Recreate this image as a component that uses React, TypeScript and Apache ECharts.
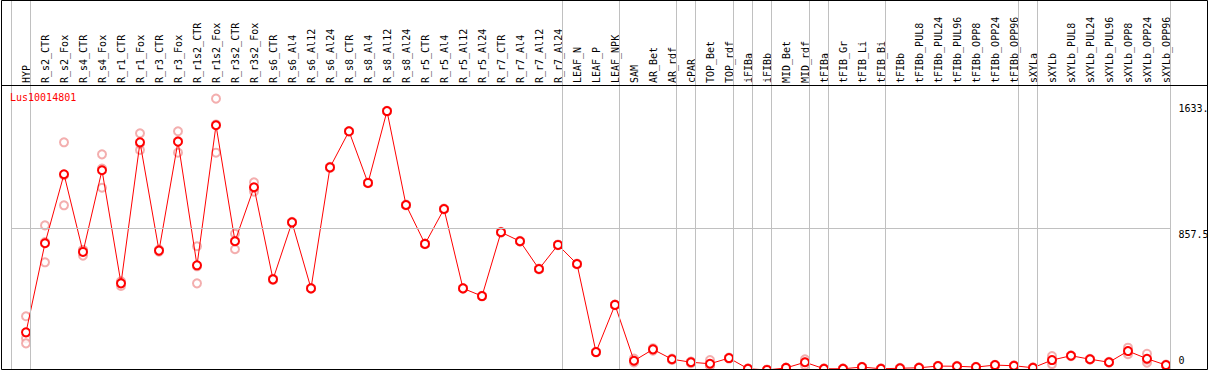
import React, { useEffect, useRef } from "react";
import * as echarts from "echarts";

const categories = [
  "HYP", "R_s2_CTR", "R_s2_Fox", "R_s4_CTR", "R_s4_Fox", "R_r1_CTR", "R_r1_Fox", "R_r3_CTR", "R_r3_Fox",
  "R_r1s2_CTR", "R_r1s2_Fox", "R_r3s2_CTR", "R_r3s2_Fox", "R_s6_CTR", "R_s6_Al4", "R_s6_Al12", "R_s6_Al24",
  "R_s8_CTR", "R_s8_Al4", "R_s8_Al12", "R_s8_Al24", "R_r5_CTR", "R_r5_Al4", "R_r5_Al12", "R_r5_Al24",
  "R_r7_CTR", "R_r7_Al4", "R_r7_Al12", "R_r7_Al24", "LEAF_N", "LEAF_P", "LEAF_NPK", "SAM", "AR_Bet", "AR_rdf",
  "cPAR", "TOP_Bet", "TOP_rdf", "iFIBa", "iFIBb", "MID_Bet", "MID_rdf", "tFIBa", "tFIB_Gr", "tFIB_Li", "tFIB_Bi",
  "tFIBb", "tFIBb_PUL8", "tFIBb_PUL24", "tFIBb_PUL96", "tFIBb_OPP8", "tFIBb_OPP24", "tFIBb_OPP96", "sXYLa",
  "sXYLb", "sXYLb_PUL8", "sXYLb_PUL24", "sXYLb_PUL96", "sXYLb_OPP8", "sXYLb_OPP24", "sXYLb_OPP96",
];

const means = [
  235, 768, 1181, 716, 1205, 528, 1372, 724, 1376, 636, 1474, 780, 1103, 552, 893, 498, 1222,
  1438, 1129, 1559, 997, 764, 973, 498, 452, 834, 780, 614, 758, 644, 117, 399, 65, 133, 74,
  56, 47, 81, 17, 10, 22, 56, 17, 17, 27, 17, 20, 23, 33, 32, 27, 39, 35, 23,
  69, 95, 74, 56, 123, 77, 39,
];

const repA = [
  331, 875, 1372, 726, 1300, 540, 1426, 730, 1438, 750, 1633.3, 825, 1133, 555, 896, 500, 1225,
  1440, 1131, 1561, 999, 766, 975, 500, 454, 836, 782, 616, 760, 646, 119, 401, 55, 140, 78,
  60, 69, 84, 19, 12, 24, 74, 19, 19, 29, 19, 22, 25, 35, 34, 29, 41, 37, 25,
  93, 98, 77, 59, 143, 107, 42,
];
const repB = [
  199, 654, 995, 694, 1100, 512, 1326, 718, 1310, 528, 1310, 732, 1077, 548, 890, 496, 1219,
  1436, 1127, 1557, 995, 762, 971, 496, 450, 832, 778, 612, 756, 642, 115, 397, 78, 125, 70,
  50, 35, 78, 15, 8, 20, 38, 15, 15, 25, 15, 18, 21, 31, 30, 25, 37, 33, 21,
  45, 92, 71, 53, 104, 53, 36,
];
const repC = [
  169, 775, 1176, 728, 1215, 532, 1364, 724, 1380, 630, 1479, 783, 1099, 553, 893, 498, 1222,
  1438, 1129, 1559, 997, 764, 973, 498, 452, 834, 780, 614, 758, 644, 117, 399, 62, 134, 74,
  58, 37, 81, 17, 10, 22, 56, 17, 17, 27, 17, 20, 23, 33, 32, 27, 39, 35, 23,
  69, 95, 74, 56, 122, 71, 39,
];

const yLabelValues = [0, 857.5, 1633.3];
const yMax = 1715;
const groupEnds = [
  "HYP", "R_r7_Al24", "LEAF_NPK", "AR_rdf", "cPAR", "TOP_rdf", "iFIBa", "iFIBb", "MID_rdf",
  "tFIBa", "tFIB_Bi", "tFIBb_OPP96", "sXYLa", "sXYLb_OPP96",
];
const title = "Lus10014801";

const FONT = "DejaVu Sans Mono";

export default function App() {
  const ref = useRef<HTMLDivElement>(null);
  useEffect(() => {
    document.body.style.margin = "0";
    const chart = echarts.init(ref.current!, null, { renderer: "svg" });
    const repData: [number, number][] = [];
    [repA, repB, repC].forEach((arr) =>
      arr.forEach((v, i) => {
        if (v != null) repData.push([i, v]);
      })
    );
    const sepValues = [0, ...groupEnds.map((n) => categories.indexOf(n) + 1)];
    const plotTop = 85;
    const plotH = 286.6;
    chart.setOption({
      animation: false,
      backgroundColor: "#ffffff",
      title: {
        text: title,
        left: 10,
        top: 92,
        padding: 0,
        textStyle: { color: "#ff0000", fontSize: 10, fontFamily: FONT, fontWeight: "normal" },
      },
      grid: [
        { left: 16.5, top: plotTop, width: 1159, height: plotH, outerBoundsMode: "none", containLabel: false },
        { left: 11.5, top: 0, width: 1159, height: 369, outerBoundsMode: "none", containLabel: false },
        { left: 11, top: 85.4, width: 1159, height: 286.2, outerBoundsMode: "none", containLabel: false },
      ],
      xAxis: [
        {
          type: "category",
          gridIndex: 0,
          position: "top",
          data: categories,
          boundaryGap: true,
          axisLine: { show: false },
          axisTick: { show: false },
          splitLine: { show: false },
          axisLabel: {
            interval: 0,
            rotate: 90,
            margin: 2,
            fontSize: 10,
            fontFamily: FONT,
            color: "#000000",
          },
        },
        { type: "value", gridIndex: 1, min: 0, max: 61, show: false },
        { type: "value", gridIndex: 2, min: 0, max: 1, show: false },
      ],
      yAxis: [
        {
          type: "value",
          gridIndex: 0,
          min: 0,
          max: yMax,
          position: "right",
          axisLine: { show: false },
          axisTick: { show: false },
          splitLine: { show: false },
          axisLabel: {
            customValues: [yLabelValues[1]],
            margin: 3,
            verticalAlign: "top",
            padding: [1, 0, 0, 0],
            fontSize: 10,
            fontFamily: FONT,
            color: "#000000",
            formatter: (v: number) => String(v),
          },
        },
        {
          type: "value",
          gridIndex: 0,
          min: 0,
          max: yMax,
          position: "right",
          axisLine: { show: false },
          axisTick: { show: false },
          splitLine: { show: false },
          axisLabel: {
            customValues: [yLabelValues[2]],
            margin: 3,
            verticalAlign: "top",
            padding: [5, 0, 0, 0],
            fontSize: 10,
            fontFamily: FONT,
            color: "#000000",
            formatter: (v: number) => String(Math.floor(v)) + ".",
          },
        },
        {
          type: "value",
          gridIndex: 0,
          min: 0,
          max: yMax,
          position: "right",
          axisLine: { show: false },
          axisTick: { show: false },
          splitLine: { show: false },
          axisLabel: {
            customValues: [yLabelValues[0]],
            margin: 3,
            verticalAlign: "bottom",
            padding: [0, 0, 6, 0],
            fontSize: 10,
            fontFamily: FONT,
            color: "#000000",
            formatter: (v: number) => String(v),
          },
        },
        { type: "value", gridIndex: 1, min: 0, max: 1, show: false },
        { type: "value", gridIndex: 2, min: 0, max: yMax, show: false },
      ],
      series: [
        {
          type: "line",
          xAxisIndex: 1,
          yAxisIndex: 3,
          data: [],
          silent: true,
          markLine: {
            silent: true,
            symbol: "none",
            label: { show: false },
            lineStyle: { color: "#c0c0c0", width: 1, type: "solid" },
            data: sepValues.map((v) => ({ xAxis: v })),
          },
        },
        {
          type: "line",
          xAxisIndex: 2,
          yAxisIndex: 4,
          data: [],
          silent: true,
          markLine: {
            silent: true,
            symbol: "none",
            label: { show: false },
            lineStyle: { color: "#c0c0c0", width: 1, type: "solid" },
            data: [{ yAxis: yLabelValues[1] }],
          },
        },
        {
          type: "scatter",
          xAxisIndex: 0,
          yAxisIndex: 0,
          data: repData,
          symbol: "emptyCircle",
          symbolSize: 8,
          itemStyle: { color: "#f09a9a", borderColor: "#f09a9a", borderWidth: 1.5 },
          z: 2,
        },
        {
          type: "line",
          xAxisIndex: 0,
          yAxisIndex: 0,
          data: means,
          symbol: "emptyCircle",
          symbolSize: 8,
          showAllSymbol: true,
          lineStyle: { color: "#ff0000", width: 1 },
          itemStyle: { color: "#ff0000", borderColor: "#ff0000", borderWidth: 1.5 },
          z: 3,
        },
      ],
      graphic: [
        {
          type: "rect",
          shape: { x: 1.5, y: 0.5, width: 1206, height: 369 },
          style: { fill: "none", stroke: "#000000", lineWidth: 1 },
          silent: true,
          z: 100,
        },
        {
          type: "line",
          shape: { x1: 1.5, y1: 85.5, x2: 1207.5, y2: 85.5 },
          style: { stroke: "#000000", lineWidth: 1 },
          silent: true,
          z: 100,
        },
      ],
    });
    return () => chart.dispose();
  }, []);
  return <div ref={ref} style={{ width: 1209, height: 370 }} />;
}
